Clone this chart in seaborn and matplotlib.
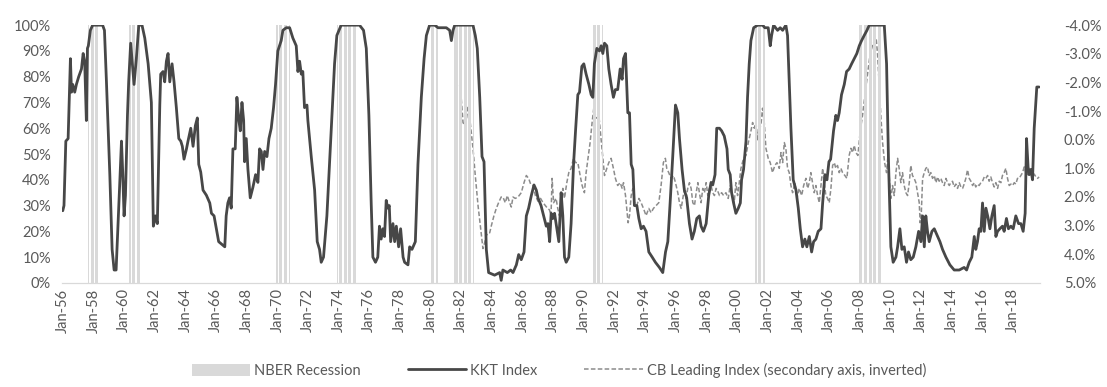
import numpy as np
import pandas as pd
import matplotlib
matplotlib.use("Agg")
import matplotlib.pyplot as plt
import seaborn as sns
from matplotlib.patches import Patch
from matplotlib.lines import Line2D
from matplotlib.ticker import FuncFormatter

# NBER recessions (decimal years)
rec_start = [1957.67, 1960.33, 1969.92, 1973.92, 1980.0, 1981.5, 1990.5, 2001.17, 2007.92]
rec_end = [1958.33, 1961.08, 1970.83, 1975.17, 1980.5, 1982.83, 1991.17, 2001.83, 2009.42]

# KKT index (%)
kkt_year = [
    1956.00, 1956.08, 1956.20, 1956.35, 1956.50, 1956.57, 1956.65, 1956.78, 1956.89, 1957.04,
    1957.22, 1957.33, 1957.43, 1957.54, 1957.61, 1957.67, 1957.80, 1957.95, 1958.60, 1958.72,
    1958.85, 1959.07, 1959.22, 1959.35, 1959.48, 1959.61, 1959.72, 1959.83, 1959.91, 1960.00,
    1960.09, 1960.22, 1960.30, 1960.43, 1960.54, 1960.65, 1960.80, 1960.96, 1961.17, 1961.35,
    1961.57, 1961.78, 1961.91, 1962.04, 1962.17, 1962.33, 1962.39, 1962.54, 1962.65, 1962.76,
    1962.87, 1962.98, 1963.13, 1963.26, 1963.41, 1963.57, 1963.70, 1963.80, 1963.91, 1964.07,
    1964.17, 1964.35, 1964.50, 1964.65, 1964.78, 1964.87, 1965.00, 1965.15, 1965.37, 1965.59,
    1965.70, 1965.87, 1966.02, 1966.17, 1966.57, 1966.66, 1966.77, 1966.88, 1966.99, 1967.10,
    1967.25, 1967.36, 1967.49, 1967.58, 1967.69, 1967.80, 1967.86, 1967.97, 1968.08, 1968.23,
    1968.40, 1968.58, 1968.73, 1968.84, 1968.95, 1969.06, 1969.17, 1969.32, 1969.45, 1969.60,
    1969.75, 1969.88, 1970.03, 1970.14, 1970.25, 1970.36, 1970.58, 1970.80, 1971.01, 1971.23,
    1971.34, 1971.45, 1971.56, 1971.66, 1971.77, 1971.93, 1971.99, 1972.21, 1972.43, 1972.60,
    1972.75, 1972.86, 1973.01, 1973.23, 1973.51, 1973.73, 1973.88, 1974.16, 1975.36, 1975.62,
    1975.80, 1975.97, 1976.12, 1976.23, 1976.40, 1976.55, 1976.66, 1976.77, 1976.88, 1976.99,
    1977.10, 1977.20, 1977.30, 1977.39, 1977.54, 1977.65, 1977.76, 1977.91, 1978.04, 1978.20,
    1978.30, 1978.52, 1978.63, 1978.78, 1979.00, 1979.17, 1979.39, 1979.57, 1979.72, 1979.93,
    1980.26, 1980.48, 1981.02, 1981.24, 1981.35, 1981.46, 1981.57, 1982.76, 1982.91, 1983.04,
    1983.20, 1983.35, 1983.48, 1983.63, 1983.78, 1984.17, 1984.50, 1984.60, 1984.71, 1985.00,
    1985.22, 1985.37, 1985.59, 1985.74, 1985.91, 1986.09, 1986.24, 1986.39, 1986.57, 1986.74,
    1986.89, 1987.00, 1987.20, 1987.37, 1987.54, 1987.65, 1987.76, 1987.86, 1987.97, 1988.08,
    1988.18, 1988.36, 1988.51, 1988.62, 1988.73, 1988.84, 1989.01, 1989.16, 1989.32, 1989.45,
    1989.60, 1989.71, 1989.86, 1989.99, 1990.14, 1990.32, 1990.47, 1990.58, 1990.68, 1990.84,
    1991.01, 1991.12, 1991.23, 1991.34, 1991.49, 1991.62, 1991.77, 1991.92, 1992.05, 1992.20,
    1992.36, 1992.49, 1992.58, 1992.71, 1992.86, 1992.97, 1993.08, 1993.19, 1993.29, 1993.45,
    1993.58, 1993.73, 1993.88, 1994.05, 1994.23, 1994.45, 1994.66, 1994.92, 1995.14, 1995.32,
    1995.47, 1995.62, 1995.79, 1995.97, 1996.12, 1996.23, 1996.40, 1996.55, 1996.70, 1996.88,
    1997.05, 1997.20, 1997.36, 1997.53, 1997.64, 1997.79, 1997.97, 1998.14, 1998.29, 1998.40,
    1998.55, 1998.66, 1998.84, 1998.98, 1999.15, 1999.33, 1999.41, 1999.54, 1999.63, 1999.76,
    1999.91, 2000.07, 2000.20, 2000.28, 2000.41, 2000.57, 2000.67, 2000.78, 2000.89, 2001.07,
    2001.33, 2001.65, 2001.80, 2002.02, 2002.15, 2002.24, 2002.37, 2002.63, 2002.80, 2002.96,
    2003.17, 2003.28, 2003.39, 2003.50, 2003.65, 2003.83, 2003.98, 2004.11, 2004.26, 2004.41,
    2004.54, 2004.70, 2004.85, 2004.98, 2005.13, 2005.28, 2005.46, 2005.57, 2005.72, 2005.85,
    2005.98, 2006.09, 2006.28, 2006.43, 2006.54, 2006.65, 2006.80, 2006.98, 2007.13, 2007.30,
    2007.46, 2007.63, 2007.80, 2007.96, 2008.11, 2008.28, 2008.46, 2008.61, 2009.59, 2009.74,
    2009.87, 2010.02, 2010.17, 2010.35, 2010.46, 2010.61, 2010.74, 2010.89, 2011.04, 2011.17,
    2011.32, 2011.48, 2011.65, 2011.83, 2011.98, 2012.09, 2012.20, 2012.30, 2012.41, 2012.52,
    2012.70, 2012.85, 2013.07, 2013.22, 2013.39, 2013.61, 2013.87, 2014.15, 2014.48, 2014.80,
    2014.96, 2015.13, 2015.30, 2015.46, 2015.56, 2015.67, 2015.78, 2015.89, 2016.00, 2016.11,
    2016.22, 2016.37, 2016.48, 2016.61, 2016.76, 2016.87, 2016.98, 2017.13, 2017.30, 2017.41,
    2017.56, 2017.69, 2017.85, 2018.00, 2018.17, 2018.35, 2018.50, 2018.65, 2018.78, 2018.87,
    2018.98, 2019.04, 2019.15, 2019.26, 2019.37, 2019.48, 2019.54, 2019.69,
]
kkt_value = [
    28, 30, 55, 56, 87, 74, 77, 74, 77, 80,
    83, 89, 86, 63, 91, 92, 98, 100, 100, 98,
    78, 42, 13, 5, 5, 23, 39, 55, 43, 26,
    34, 65, 78, 93, 85, 77, 87, 100, 100, 95,
    85, 70, 22, 26, 23, 69, 81, 82, 78, 86,
    89, 78, 85, 78, 68, 56, 55, 53, 48, 52,
    55, 60, 53, 61, 64, 46, 43, 36, 34, 31,
    27, 26, 21, 16, 14, 26, 31, 33, 29, 52,
    52, 72, 63, 59, 70, 63, 47, 56, 44, 33,
    37, 42, 39, 52, 51, 44, 51, 49, 56, 60,
    68, 77, 90, 92, 94, 98, 99, 99, 95, 92,
    82, 86, 81, 82, 68, 69, 63, 49, 36, 16,
    13, 8, 10, 26, 59, 85, 96, 100, 100, 98,
    91, 65, 31, 10, 8, 10, 22, 17, 21, 18,
    32, 29, 30, 16, 23, 16, 22, 14, 21, 10,
    8, 7, 14, 13, 16, 46, 72, 87, 96, 100,
    100, 99, 99, 98, 94, 98, 100, 100, 96, 91,
    72, 49, 47, 13, 4, 3, 4, 1, 5, 4,
    5, 4, 7, 11, 9, 12, 26, 29, 34, 38,
    36, 33, 30, 26, 22, 23, 16, 27, 25, 27,
    23, 16, 35, 26, 10, 8, 10, 23, 46, 59,
    73, 74, 84, 85, 81, 77, 73, 72, 85, 91,
    90, 92, 89, 93, 92, 83, 77, 72, 75, 75,
    83, 79, 87, 89, 66, 66, 46, 44, 30, 30,
    25, 21, 22, 20, 12, 10, 8, 6, 4, 12,
    16, 31, 49, 69, 66, 56, 44, 36, 33, 23,
    17, 20, 25, 26, 22, 20, 23, 34, 39, 38,
    42, 60, 60, 59, 57, 52, 44, 42, 35, 31,
    27, 29, 31, 40, 44, 55, 72, 85, 94, 99,
    100, 100, 99, 99, 92, 96, 100, 98, 99, 98,
    100, 96, 78, 60, 40, 36, 29, 21, 14, 17,
    14, 18, 12, 16, 17, 20, 21, 31, 42, 40,
    47, 48, 59, 65, 63, 66, 73, 77, 82, 83,
    85, 87, 89, 92, 94, 96, 98, 100, 100, 85,
    46, 14, 8, 10, 14, 21, 13, 14, 8, 12,
    9, 10, 14, 20, 16, 26, 14, 26, 20, 16,
    20, 21, 18, 16, 13, 10, 7, 5, 5, 6,
    5, 8, 10, 18, 13, 16, 21, 20, 31, 20,
    29, 25, 21, 26, 30, 18, 20, 21, 22, 20,
    25, 21, 22, 21, 26, 23, 23, 20, 27, 56,
    44, 42, 44, 40, 60, 70, 76, 76,
]

# CB Leading Index (%), secondary axis, inverted
cb_year = [
    1981.89, 1982.00, 1982.11, 1982.22, 1982.33, 1982.43, 1982.50, 1982.60, 1982.76, 1982.91,
    1983.09, 1983.26, 1983.41, 1983.52, 1983.63, 1983.74, 1983.85, 1983.96, 1984.13, 1984.28,
    1984.43, 1984.60, 1984.71, 1984.87, 1985.00, 1985.15, 1985.26, 1985.37, 1985.52, 1985.70,
    1985.91, 1986.09, 1986.24, 1986.39, 1986.52, 1986.67, 1986.83, 1987.00, 1987.17, 1987.33,
    1987.48, 1987.63, 1987.75, 1987.85, 1987.92, 1988.02, 1988.18, 1988.29, 1988.40, 1988.51,
    1988.62, 1988.73, 1988.88, 1989.01, 1989.16, 1989.32, 1989.45, 1989.60, 1989.75, 1989.88,
    1990.03, 1990.14, 1990.29, 1990.40, 1990.53, 1990.64, 1990.75, 1990.84, 1990.97, 1991.05,
    1991.18, 1991.34, 1991.49, 1991.62, 1991.77, 1991.92, 1992.05, 1992.20, 1992.36, 1992.49,
    1992.58, 1992.71, 1992.79, 1992.88, 1992.97, 1993.08, 1993.19, 1993.29, 1993.45, 1993.58,
    1993.73, 1993.88, 1994.05, 1994.23, 1994.38, 1994.53, 1994.71, 1994.88, 1995.03, 1995.18,
    1995.31, 1995.40, 1995.53, 1995.68, 1995.84, 1995.97, 1996.12, 1996.23, 1996.34, 1996.45,
    1996.55, 1996.66, 1996.77, 1996.88, 1996.99, 1997.10, 1997.21, 1997.32, 1997.43, 1997.53,
    1997.64, 1997.75, 1997.86, 1997.97, 1998.08, 1998.18, 1998.29, 1998.40, 1998.51, 1998.62,
    1998.73, 1998.84, 1998.98, 1999.11, 1999.26, 1999.41, 1999.54, 1999.70, 1999.80, 1999.91,
    2000.02, 2000.13, 2000.24, 2000.41, 2000.57, 2000.72, 2000.89, 2001.00, 2001.11, 2001.22,
    2001.33, 2001.43, 2001.54, 2001.65, 2001.76, 2001.87, 2002.02, 2002.15, 2002.30, 2002.45,
    2002.59, 2002.74, 2002.85, 2002.96, 2003.07, 2003.17, 2003.28, 2003.39, 2003.50, 2003.61,
    2003.76, 2003.89, 2004.04, 2004.20, 2004.33, 2004.48, 2004.59, 2004.70, 2004.80, 2004.91,
    2005.02, 2005.13, 2005.24, 2005.35, 2005.46, 2005.57, 2005.67, 2005.78, 2005.89, 2006.00,
    2006.11, 2006.22, 2006.33, 2006.43, 2006.54, 2006.65, 2006.76, 2006.87, 2007.02, 2007.15,
    2007.30, 2007.41, 2007.52, 2007.63, 2007.74, 2007.87, 2008.02, 2008.17, 2008.33, 2008.50,
    2008.67, 2008.83, 2008.98, 2009.06, 2009.15, 2009.26, 2009.37, 2009.48, 2009.61, 2009.74,
    2009.83, 2009.96, 2010.02, 2010.13, 2010.24, 2010.35, 2010.46, 2010.56, 2010.67, 2010.78,
    2010.89, 2011.00, 2011.11, 2011.22, 2011.32, 2011.43, 2011.54, 2011.65, 2011.76, 2011.87,
    2011.93, 2012.00, 2012.09, 2012.20, 2012.30, 2012.41, 2012.52, 2012.63, 2012.74, 2012.85,
    2012.96, 2013.07, 2013.17, 2013.28, 2013.39, 2013.50, 2013.61, 2013.72, 2013.83, 2013.93,
    2014.04, 2014.15, 2014.26, 2014.37, 2014.48, 2014.59, 2014.70, 2014.80, 2014.91, 2015.02,
    2015.13, 2015.24, 2015.35, 2015.46, 2015.56, 2015.67, 2015.78, 2015.89, 2016.00, 2016.11,
    2016.22, 2016.33, 2016.43, 2016.54, 2016.65, 2016.76, 2016.87, 2016.98, 2017.09, 2017.20,
    2017.30, 2017.41, 2017.52, 2017.63, 2017.74, 2017.85, 2017.96, 2018.07, 2018.17, 2018.28,
    2018.39, 2018.50, 2018.61, 2018.72, 2018.83, 2018.93, 2019.04, 2019.15, 2019.26, 2019.37,
    2019.48, 2019.59, 2019.69,
]
cb_value = [
    -1.9, -1.4, -0.6, -0.5, -0.7, -1.15, -1.0, -0.5, 0.3, 1.25,
    2.3, 3.1, 3.8, 3.6, 3.35, 3.25, 3.25, 3.0, 2.65, 2.4,
    2.2, 2.0, 2.0, 2.2, 1.95, 2.2, 2.35, 2.0, 2.05, 2.0,
    1.85, 1.5, 1.25, 1.35, 1.55, 1.6, 1.95, 2.15, 2.05, 2.2,
    2.3, 2.4, 2.45, 2.65, 1.35, 2.2, 2.05, 2.4, 2.65, 2.2,
    1.7, 2.05, 1.5, 1.15, 1.0, 0.65, 0.8, 0.8, 1.25, 1.6,
    1.85, 1.15, 0.55, 0.1, -0.6, -1.1, -0.85, -0.75, -0.85, -0.4,
    0.3, 1.25, 1.0, 0.8, 0.65, 1.0, 1.35, 1.6, 1.5, 1.7,
    1.5, 1.95, 2.4, 2.9, 2.65, 1.95, 1.7, 2.2, 2.3, 2.05,
    2.2, 2.4, 2.65, 2.4, 2.55, 2.4, 2.3, 2.2, 1.6, 0.8,
    0.65, 1.0, 1.15, 1.35, 1.25, 1.5, 1.85, 2.2, 2.4, 2.05,
    1.7, 2.05, 1.7, 1.5, 1.7, 2.2, 2.3, 1.85, 1.5, 1.85,
    2.2, 1.7, 1.85, 1.5, 1.95, 1.7, 1.6, 1.85, 1.95, 1.7,
    1.8, 1.95, 1.85, 1.95, 1.85, 2.05, 1.6, 1.95, 2.2, 1.5,
    1.95, 1.5, 1.0, 0.65, 0.55, 0.1, -0.3, -0.6, -0.4, -0.6,
    0.0, -0.4, -0.5, -1.1, -0.6, 0.3, 0.65, 0.8, 1.15, 0.9,
    0.8, 1.0, 0.45, 0.8, 0.1, 0.3, 1.0, 1.15, 1.6, 1.85,
    1.5, 2.05, 1.7, 1.95, 1.6, 1.35, 1.7, 1.5, 1.15, 1.5,
    1.85, 1.6, 1.95, 2.2, 1.6, 1.0, 1.5, 1.95, 2.05, 2.2,
    1.7, 0.9, 0.8, 1.0, 0.9, 1.15, 1.0, 1.15, 1.25, 1.35,
    0.55, 0.3, 0.45, 0.2, 0.45, 0.55, -0.3, -0.85, -1.55, -2.3,
    -3.0, -3.3, -3.5, -3.55, -3.0, -1.9, -0.8, 0.1, 0.8, 1.15,
    0.55, 1.7, 2.05, 1.6, 1.95, 1.15, 0.65, 1.0, 1.5, 1.15,
    1.6, 1.85, 1.95, 1.5, 0.9, 1.25, 1.35, 1.5, 1.85, 2.2,
    2.9, 2.65, 1.35, 1.15, 1.0, 0.95, 1.25, 1.15, 1.35, 1.25,
    1.5, 1.3, 1.45, 1.35, 1.5, 1.6, 1.35, 1.5, 1.6, 1.5,
    1.45, 1.65, 1.55, 1.7, 1.5, 1.65, 1.7, 1.55, 1.35, 1.05,
    1.35, 1.45, 1.6, 1.5, 1.65, 1.55, 1.6, 1.5, 1.45, 1.3,
    1.35, 1.25, 1.45, 1.3, 1.5, 1.65, 1.5, 1.7, 1.45, 1.5,
    1.25, 1.15, 1.0, 1.35, 1.6, 1.55, 1.6, 1.5, 1.55, 1.35,
    1.35, 1.25, 1.15, 0.95, 1.15, 1.25, 1.0, 1.15, 1.35, 1.2,
    1.3, 1.35, 1.3,
]

year_ticks = list(range(1956, 2019, 2))
tick_labels = [f"Jan-{y % 100:02d}" for y in year_ticks]

sns.set_style("white")
plt.rcParams["font.family"] = ["Lato", "DejaVu Sans"]
text_color = "#595959"

kkt = pd.DataFrame({"year": kkt_year, "value": kkt_value})
cb = pd.DataFrame({"year": cb_year, "value": cb_value})

fig = plt.figure(figsize=(11.07, 3.87), dpi=100)
ax = fig.add_axes([0.056, 0.269, 0.8835, 0.666])

# recession shading as monthly columns
for s, e in zip(rec_start, rec_end):
    months = np.arange(s, e, 1 / 12)
    ax.bar(months, 100, width=0.055, align="edge", color="#d9d9d9", linewidth=0, zorder=1)

sns.lineplot(data=kkt, x="year", y="value", ax=ax, color="#474747", linewidth=2.0,
             sort=False, zorder=3)

ax2 = ax.twinx()
sns.lineplot(data=cb, x="year", y="value", ax=ax2, color="#8c8c8c", linewidth=1.1,
             sort=False, linestyle=(0, (3, 1.5)), zorder=2)

ax.set_xlim(1955.95, 2019.75)
ax.set_ylim(0, 100)
ax2.set_ylim(5, -4)

ax.set_yticks(range(0, 101, 10))
ax.yaxis.set_major_formatter(FuncFormatter(lambda v, p: f"{v:.0f}%"))
ax2.set_yticks(range(-4, 6))
ax2.yaxis.set_major_formatter(FuncFormatter(lambda v, p: f"{v:.1f}%"))

ax.set_xticks(year_ticks)
ax.set_xticklabels(tick_labels, rotation=90)

for a in (ax, ax2):
    a.set_xlabel("")
    a.set_ylabel("")
    a.tick_params(length=0, labelsize=10.5, labelcolor=text_color, pad=4)
    for side in ("top", "left", "right"):
        a.spines[side].set_visible(False)
    a.spines["bottom"].set_color("#d9d9d9")
ax.tick_params(axis="y", pad=8)
ax2.tick_params(axis="y", pad=17)
ax.set_zorder(ax2.get_zorder() + 1)
ax.patch.set_visible(False)

handles = [
    Patch(facecolor="#d9d9d9", edgecolor="none", label="NBER Recession"),
    Line2D([0], [0], color="#474747", lw=2.0, label="KKT Index"),
    Line2D([0], [0], color="#8c8c8c", lw=1.1, linestyle=(0, (3, 1.5)),
           label="CB Leading Index (secondary axis, inverted)"),
]
fig.legend(handles=handles, loc="lower center", bbox_to_anchor=(0.505, -0.01), ncol=3,
           frameon=False, fontsize=10.5, labelcolor=text_color, handlelength=4.0,
           handleheight=0.9, columnspacing=3.2, handletextpad=0.3)

fig.savefig("out.png", dpi=100)
